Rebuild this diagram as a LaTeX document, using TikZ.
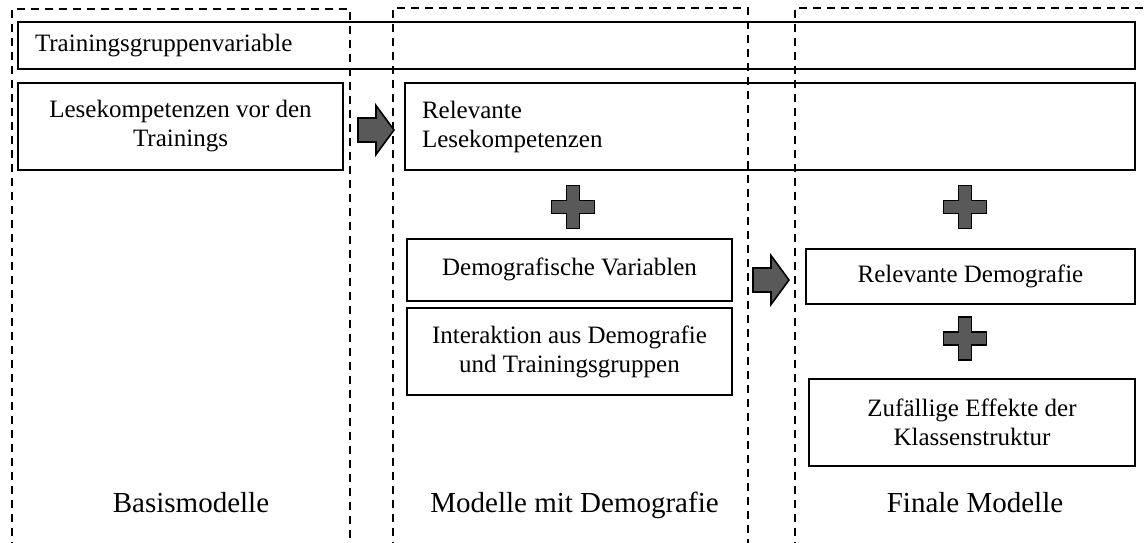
\documentclass[tikz,border=0pt]{standalone}
\usepackage{fontspec}
\setmainfont{Liberation Serif}
\usepackage{tikz}
\usetikzlibrary{positioning,calc}
\usepackage{xcolor}
\definecolor{plusgray}{HTML}{595959}

\begin{document}
\begin{tikzpicture}[
    x=1pt, y=-1pt,
    box/.style={draw, rectangle, line width=2pt, inner sep=0pt,
        align=center, font=\fontsize{25}{29}\selectfont},
    leftbox/.style={box, align=left, inner xsep=17pt},
    frame/.style={line width=2.2pt, dash pattern=on 8pt off 6pt},
    stage/.style={font=\fontsize{29}{33}\selectfont, anchor=base},
    shapefill/.style={draw=black, line width=1.6pt, fill=plusgray, line join=miter},
    plussign/.pic={
        \draw[shapefill] (-6.5,-21.5) -- (6.5,-21.5) -- (6.5,-6.5) -- (21.5,-6.5)
            -- (21.5,6.5) -- (6.5,6.5) -- (6.5,21.5) -- (-6.5,21.5) -- (-6.5,6.5)
            -- (-21.5,6.5) -- (-21.5,-6.5) -- (-6.5,-6.5) -- cycle;
    },
    blockarrow/.pic={
        \draw[shapefill] (0,-12) -- (18,-12) -- (18,-24.5) -- (36,0)
            -- (18,24.5) -- (18,12) -- (0,12) -- cycle;
    }
]
\useasboundingbox (0,0) rectangle (1145,542);
\clip (0,0) rectangle (1145,542);

% Stage frames
\draw[frame] (12,550) |- (350,9) -- (350,550);
\draw[frame] (393,550) |- (748,8) -- (748,550);
\draw[frame] (795,550) |- (1150,8);

% Training group variable (all stages)
\node[leftbox, minimum width=1117pt, minimum height=47pt, text width=1083pt]
    (tgv) at (576.5,45.5) {Trainingsgruppenvariable};

% Base models
\node[box, minimum width=325pt, minimum height=87pt] (lese) at (180.5,126.5)
    {Lesekompetenzen vor den\\Trainings};

% Relevant reading skills
\node[leftbox, minimum width=730pt, minimum height=87pt, text width=696pt]
    (rellese) at (770,126.5) {Relevante\\Lesekompetenzen};

% Demography
\node[box, minimum width=325pt, minimum height=62pt] (demo) at (569.5,269.5)
    {Demografische Variablen};
\node[box, minimum width=325pt, minimum height=87pt] (inter) at (569.5,351.5)
    {Interaktion aus Demografie\\und Trainingsgruppen};

% Final models
\node[box, minimum width=329pt, minimum height=55pt] (reldemo) at (970.5,276)
    {Relevante Demografie};
\node[box, minimum width=326pt, minimum height=87pt] (zufall) at (972,422)
    {Zufällige Effekte der\\Klassenstruktur};

% Arrows and plus signs
\pic at (358,130) {blockarrow};
\pic at (753,280) {blockarrow};
\pic at (573,207) {plussign};
\pic at (965,207) {plussign};
\pic at (965,338.5) {plussign};

% Stage labels
\node[stage] (basis) at (191,512) {Basismodelle};
\node[stage] (mitdemo) at (574.5,512) {Modelle mit Demografie};
\node[stage] (final) at (975,512) {Finale Modelle};

\end{tikzpicture}
\end{document}
